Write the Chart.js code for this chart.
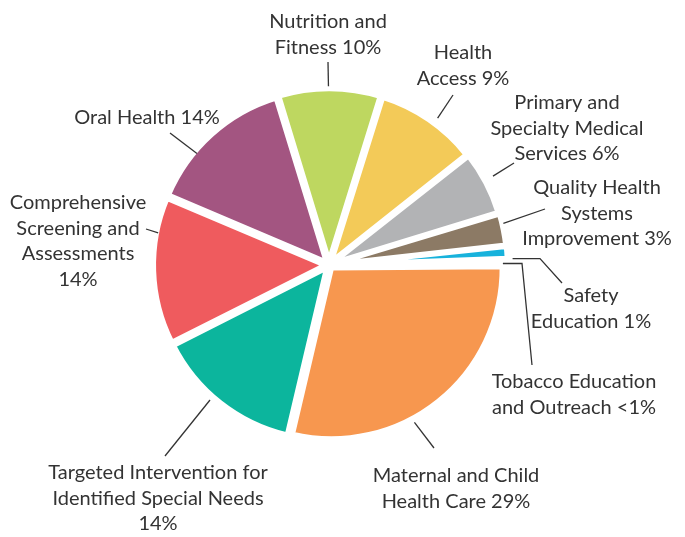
<!DOCTYPE html>
<html>
<head>
<meta charset="utf-8">
<script src="https://cdn.jsdelivr.net/npm/chart.js@4.4.1/dist/chart.umd.min.js"></script>
<style>
    html, body { margin: 0; padding: 0; background: #ffffff; }
    #wrap { position: relative; width: 685px; height: 537px; }
</style>
</head>
<body>
<div id="wrap"><canvas id="chart"></canvas></div>
<script>
// Slices, clockwise from the top (percent of funding)
var categories = [
    'Nutrition and Fitness',
    'Health Access',
    'Primary and Specialty Medical Services',
    'Quality Health Systems Improvement',
    'Safety Education',
    'Tobacco Education and Outreach',
    'Maternal and Child Health Care',
    'Targeted Intervention for Identified Special Needs',
    'Comprehensive Screening and Assessments',
    'Oral Health'
];
var shares = [9.6, 9.6, 6.0, 3.0, 1.2, 0.4, 29.0, 14.0, 13.9, 14.0];
var shareLabels = ['10%', '9%', '6%', '3%', '1%', '<1%', '29%', '14%', '14%', '14%'];
var sliceColors = ['#bed760', '#f3ca58', '#b2b3b5', '#8c7a65', '#17b2dc', '#9fd8ea',
                   '#f7974f', '#0cb59d', '#ef5b5e', '#a35581'];

// Label text broken into lines; the share is appended to the last line
var labelLines = [
    ['Nutrition and', 'Fitness'],
    ['Health', 'Access'],
    ['Primary and', 'Specialty Medical', 'Services'],
    ['Quality Health', 'Systems', 'Improvement'],
    ['Safety', 'Education'],
    ['Tobacco Education', 'and Outreach'],
    ['Maternal and Child', 'Health Care'],
    ['Targeted Intervention for', 'Identified Special Needs', ''],
    ['Comprehensive', 'Screening and', 'Assessments', ''],
    ['Oral Health']
];

// Where each label sits and how its leader runs (layout only).
// frac: position along the slice where the leader starts, gap: px beyond the rim
// pts: leader points after the start; a null y keeps the previous y (horizontal run)
var labelLayout = [
    { x: 328, y: 28,  frac: 0.49, gap: 5,  pts: [[328, 62]] },
    { x: 463, y: 59,  frac: 0.56, gap: 9,  pts: [[453, 95]] },
    { x: 567, y: 109, frac: 0.46, gap: 12, pts: [[514, 163]] },
    { x: 597, y: 194, frac: 0.32, gap: 4,  pts: [[545, 209]] },
    { x: 591, y: 302, frac: 1.0,  gap: 8,  pts: [[540, null], [562, 283]] },
    { x: 574, y: 388, frac: 1.0,  gap: -2, pts: [[522, null], [532, 365]] },
    { x: 456, y: 482, frac: 0.6,  gap: 7,  pts: [[434, 448]] },
    { x: 158, y: 479, frac: 0.565, gap: 7, pts: [[165, 456]] },
    { x: 78,  y: 209, frac: 0.76, gap: 1,  pts: [[146, 229]] },
    { x: 147, y: 124, frac: 0.34, gap: 0,  pts: [[170, 133]] }
];

var BORDER = 5;
var OFFSET = 16;

var calloutPlugin = {
    id: 'callouts',
    afterDatasetsDraw: function(chart) {
        var ctx = chart.ctx;
        var arcs = chart.getDatasetMeta(0).data;

        ctx.save();
        ctx.strokeStyle = '#333333';
        ctx.lineWidth = 1.3;
        ctx.fillStyle = '#333333';
        ctx.font = '20px Lato';
        ctx.textAlign = 'center';
        ctx.textBaseline = 'alphabetic';

        for (var i = 0; i < arcs.length; i++) {
            var arc = arcs[i].getProps(['x', 'y', 'startAngle', 'endAngle', 'outerRadius', 'circumference'], true);
            var lay = labelLayout[i];

            // same outward shift the arc element uses for its offset
            var mid = (arc.startAngle + arc.endAngle) / 2;
            var fix = 1 - Math.sin(Math.min(Math.PI, arc.circumference || 0));
            var shift = OFFSET / 4 * (1 + fix);

            // leader start on the slice rim
            var a = arc.startAngle + lay.frac * (arc.endAngle - arc.startAngle);
            var r = arc.outerRadius - BORDER / 2 + lay.gap;
            var px = arc.x + shift * Math.cos(mid) + r * Math.cos(a);
            var py = arc.y + shift * Math.sin(mid) + r * Math.sin(a);

            ctx.beginPath();
            ctx.moveTo(px, py);
            for (var k = 0; k < lay.pts.length; k++) {
                var qx = lay.pts[k][0];
                var qy = lay.pts[k][1] == null ? py : lay.pts[k][1];
                ctx.lineTo(qx, qy);
                py = qy;
            }
            ctx.stroke();

            // label text
            var lines = labelLines[i].slice();
            var last = lines.length - 1;
            lines[last] = lines[last] ? lines[last] + ' ' + shareLabels[i] : shareLabels[i];
            for (var j = 0; j < lines.length; j++) {
                ctx.fillText(lines[j], lay.x, lay.y + j * 25.5);
            }
        }
        ctx.restore();
    }
};

var ctx = document.getElementById('chart').getContext('2d');
new Chart(ctx, {
    type: 'pie',
    data: {
        labels: categories,
        datasets: [{
            data: shares,
            backgroundColor: sliceColors,
            borderColor: '#ffffff',
            borderWidth: BORDER,
            offset: OFFSET,
            hoverOffset: 0
        }]
    },
    options: {
        responsive: true,
        maintainAspectRatio: false,
        animation: false,
        rotation: -17,
        radius: 170.5,
        layout: { padding: { left: 150, right: 177, top: 90, bottom: 97 } },
        plugins: {
            legend: { display: false },
            tooltip: { enabled: false }
        }
    },
    plugins: [calloutPlugin]
});
</script>
</body>
</html>
